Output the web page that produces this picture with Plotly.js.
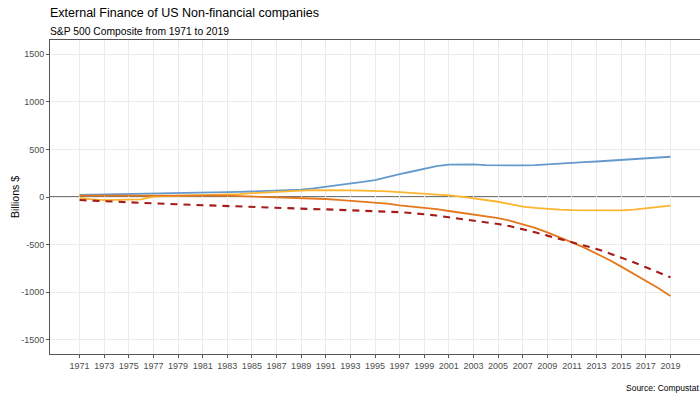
<!DOCTYPE html>
<html>
<head>
<meta charset="utf-8">
<script src="https://cdn.plot.ly/plotly-3.0.1.min.js"></script>
<style>html,body{margin:0;padding:0;background:#fff;}#chart{width:700px;height:401px;}</style>
</head>
<body>
<div id="chart"></div>
<script>
const years = [];
for (let y = 1971; y <= 2019; y++) years.push(y);

const tickYears = [1971,1973,1975,1977,1979,1981,1983,1985,1987,1989,1991,1993,1995,1997,1999,2001,2003,2005,2007,2009,2011,2013,2015,2017,2019];
const yTicks = [-1500,-1000,-500,0,500,1000,1500];

const blueSeries = [22,24,26,28,30,32,34,36,38,40,43,46,50,54,58,62,66,70,78,90,105,122,140,158,178,205,240,268,295,325,340,345,343,335,332,332,332,336,345,352,360,366,373,380,387,395,403,412,423];

const yellowSeries = [-10,-25,-32,-32,-30,-25,5,8,10,12,15,18,22,30,40,48,55,62,68,72,73,72,70,68,66,60,52,45,38,28,18,5,-11,-30,-50,-75,-100,-115,-126,-133,-137,-139,-140,-140,-140,-132,-120,-110,-91];

const orangeSeries = [15,15,16,17,18,19,20,20,20,19,18,16,14,10,6,2,-3,-7,-11,-16,-21,-30,-39,-47,-56,-70,-88,-100,-110,-128,-147,-165,-186,-200,-221,-250,-284,-325,-372,-422,-477,-532,-592,-660,-732,-805,-879,-957,-1040];

const dashedSeries = [-32,-39,-46,-51,-56,-62,-67,-72,-77,-83,-88,-93,-98,-102,-106,-110,-115,-120,-124,-127,-130,-134,-137,-141,-145,-152,-160,-169,-180,-195,-213,-230,-249,-265,-284,-308,-336,-370,-406,-440,-477,-511,-546,-590,-634,-685,-739,-790,-844];

const traces = [
  {x: years, y: blueSeries, type: 'scatter', mode: 'lines', line: {color: '#6699CC', width: 1.8}, hoverinfo: 'skip'},
  {x: years, y: yellowSeries, type: 'scatter', mode: 'lines', line: {color: '#FDB52F', width: 1.8}, hoverinfo: 'skip'},
  {x: years, y: orangeSeries, type: 'scatter', mode: 'lines', line: {color: '#E3781D', width: 1.8}, hoverinfo: 'skip'},
  {x: years, y: dashedSeries, type: 'scatter', mode: 'lines', line: {color: '#A51C1C', width: 2.1, dash: '7px,6px'}, hoverinfo: 'skip'}
];

const layout = {
  width: 700, height: 401,
  margin: {l: 50, r: 0, t: 40, b: 47},
  paper_bgcolor: '#fff', plot_bgcolor: '#fff',
  showlegend: false,
  font: {family: 'Liberation Sans, Arial, sans-serif', color: '#4D4D4D'},
  title: {text: 'External Finance of US Non-financial companies', x: 0, xref: 'paper', xanchor: 'left',
          yref: 'container', y: 0.98, yanchor: 'top', pad: {t: 0, b: 0, l: 0, r: 0},
          font: {size: 12.5, color: '#000'}},
  xaxis: {
    range: [1968.6, 2021.4], tickmode: 'array', tickvals: tickYears, ticktext: tickYears.map(String),
    tickangle: 0,
    showgrid: true, gridcolor: '#EBEBEB', gridwidth: 1, zeroline: false,
    ticks: 'outside', ticklen: 3, tickcolor: '#555', tickfont: {size: 9, color: '#4D4D4D'},
    showline: true, linecolor: '#555', linewidth: 1, mirror: true
  },
  yaxis: {
    range: [-1650, 1650], tickmode: 'array', tickvals: yTicks, ticktext: yTicks.map(String),
    showgrid: true, gridcolor: '#EBEBEB', gridwidth: 1, zeroline: false,
    ticks: 'outside', ticklen: 3, tickcolor: '#555', tickfont: {size: 9, color: '#4D4D4D'},
    showline: true, linecolor: '#555', linewidth: 1, mirror: true
  },
  shapes: [
    {type: 'line', xref: 'paper', x0: 0, x1: 1, yref: 'y', y0: 0, y1: 0, line: {color: '#444', width: 1.5}, layer: 'below'}
  ],
  annotations: [
    {text: 'Billions $', xref: 'paper', yref: 'y', x: 0, y: 0, xanchor: 'center', yanchor: 'middle', xshift: -35,
     textangle: -90, borderpad: 0, showarrow: false, font: {size: 10.5, color: '#000'}},
    {text: 'S&P 500 Composite from 1971 to 2019', xref: 'paper', yref: 'paper', x: 0, y: 1, xanchor: 'left', yanchor: 'bottom', yshift: 2, xshift: -1,
     borderpad: 0, showarrow: false, font: {size: 10.3, color: '#000'}},
    {text: 'Source: Compustat', xref: 'paper', yref: 'paper', x: 1, y: 0, xanchor: 'right', yanchor: 'top', yshift: -28,
     borderpad: 0, showarrow: false, font: {size: 8.5, color: '#000'}}
  ]
};

Plotly.newPlot('chart', traces, layout, {displayModeBar: false, staticPlot: true});
</script>
</body>
</html>
